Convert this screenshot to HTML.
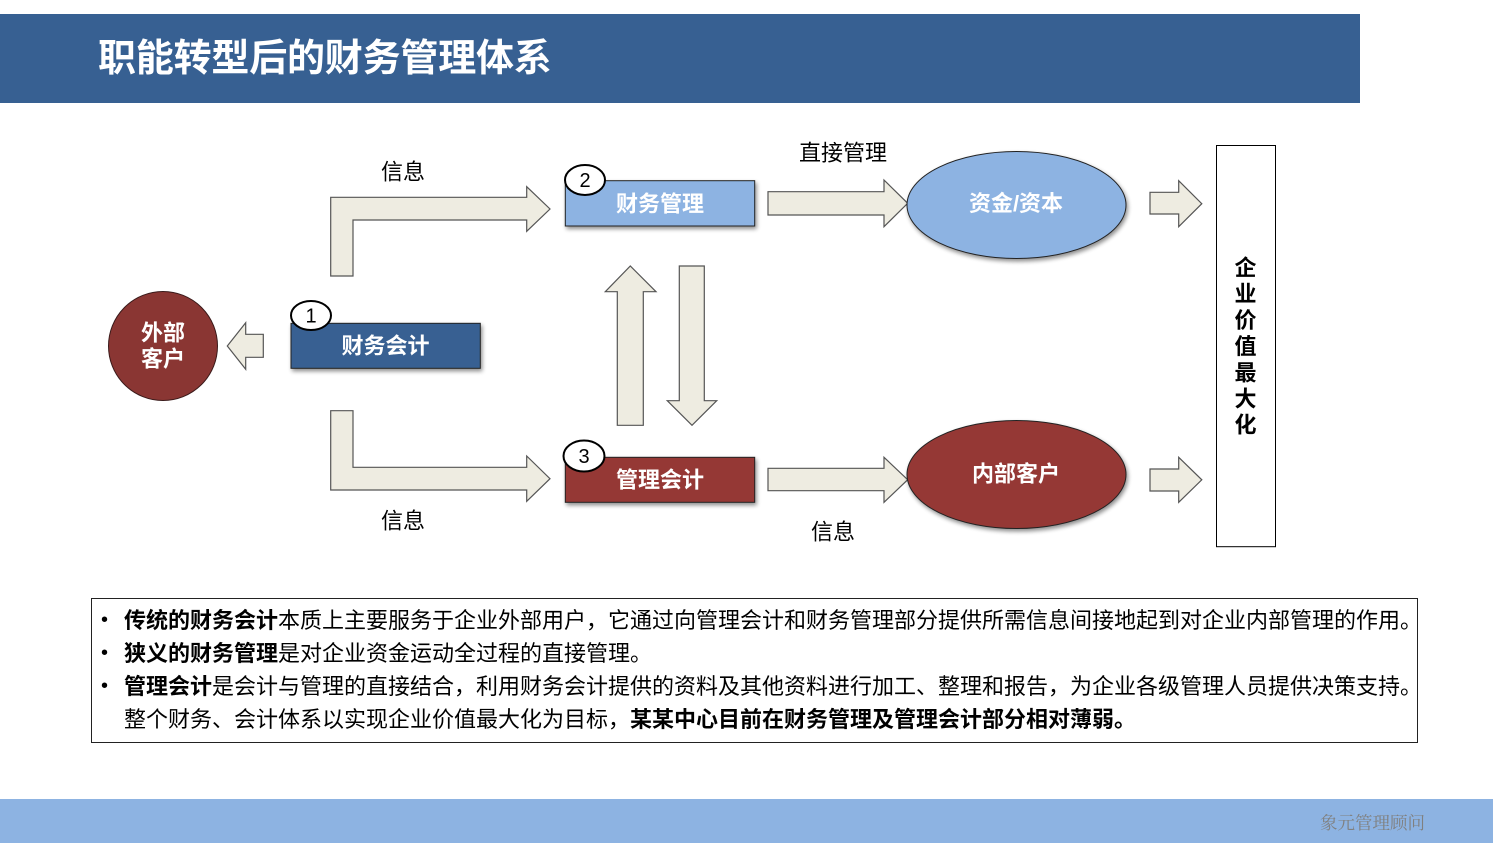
<!DOCTYPE html>
<html>
<head>
<meta charset="utf-8">
<style>
  html,body{margin:0;padding:0;background:#fff;}
  body{width:1493px;height:843px;position:relative;overflow:hidden;font-family:"Liberation Sans","Noto Sans CJK SC",sans-serif;}
  .hdr{position:absolute;left:0;top:14px;width:1360px;height:89px;background:#376092;}
  .title{position:absolute;left:98px;top:35px;font-size:38px;line-height:48px;font-weight:bold;color:#fff;white-space:nowrap;letter-spacing:-0.2px;}
  .tb{position:absolute;left:91px;top:598px;width:1325px;height:143px;border:1px solid #222;}
  .ln{position:absolute;left:124px;font-size:22px;line-height:33px;height:33px;color:#000;white-space:nowrap;}
  .bul{position:absolute;left:101px;font-size:20px;line-height:33px;color:#000;}
  b{font-weight:bold;}
  .ftr{position:absolute;left:0;top:799px;width:1493px;height:44px;background:#8DB3E2;}
  .ftxt{position:absolute;left:1320px;top:811px;font-family:"Liberation Serif","Noto Serif CJK SC",serif;font-size:17.5px;line-height:24px;color:#808080;white-space:nowrap;}
  svg{position:absolute;left:0;top:0;}
</style>
</head>
<body>
<div class="hdr"></div>
<div class="title">职能转型后的财务管理体系</div>

<svg width="1493" height="843" viewBox="0 0 1493 843" xmlns="http://www.w3.org/2000/svg">
  <defs>
    <filter id="sh" x="-20%" y="-20%" width="150%" height="160%">
      <feGaussianBlur in="SourceAlpha" stdDeviation="2"/>
      <feOffset dx="1.5" dy="2.5" result="o"/>
      <feComponentTransfer><feFuncA type="linear" slope="0.45"/></feComponentTransfer>
      <feMerge><feMergeNode/><feMergeNode in="SourceGraphic"/></feMerge>
    </filter>
  </defs>
  <g fill="#EEECE1" stroke="#555" stroke-width="1.2" stroke-linejoin="miter">
    <polygon points="330.7,276 330.7,197.3 526.7,197.3 526.7,186.7 550,209 526.7,231.3 526.7,220 353,220 353,276"/>
    <polygon points="330.7,410.7 353,410.7 353,467.3 526.7,467.3 526.7,456 550,478.7 526.7,501.3 526.7,490 330.7,490"/>
    <polygon points="617.3,425.3 617.3,291.7 605.3,291.7 630.3,266 656,291.7 643.3,291.7 643.3,425.3"/>
    <polygon points="679.3,266 704.3,266 704.3,400.7 716.7,400.7 692,425.3 667.3,400.7 679.3,400.7"/>
    <polygon points="768,191.7 884,191.7 884,180 907.7,203.3 884,226.7 884,215 768,215"/>
    <polygon points="768,468.3 884,468.3 884,457.3 907.7,479.7 884,502.3 884,490.7 768,490.7"/>
    <polygon points="1150,192.3 1178.7,192.3 1178.7,180.7 1201.8,203.7 1178.7,226.7 1178.7,214 1150,214"/>
    <polygon points="1150,469 1178.7,469 1178.7,457.3 1201.8,479.8 1178.7,502.3 1178.7,491 1150,491"/>
    <polygon points="263.3,334.3 245.7,334.3 245.7,322.7 227.3,346 245.7,369.3 245.7,357.3 263.3,357.3"/>
  </g>

  <circle cx="163" cy="346" r="54.5" fill="#8A3633" stroke="#3a1a1a" stroke-width="1"/>
  <text x="163" y="333" font-size="22" font-weight="bold" fill="#fff" text-anchor="middle" dominant-baseline="central" font-family="Liberation Sans, Noto Sans CJK SC, sans-serif">外部</text>
  <text x="163" y="359" font-size="22" font-weight="bold" fill="#fff" text-anchor="middle" dominant-baseline="central" font-family="Liberation Sans, Noto Sans CJK SC, sans-serif">客户</text>

  <rect x="291" y="323.3" width="189.3" height="45" fill="#376092" stroke="#222" stroke-width="1" filter="url(#sh)"/>
  <text x="385.5" y="346" font-size="22" font-weight="bold" fill="#fff" text-anchor="middle" dominant-baseline="central" font-family="Liberation Sans, Noto Sans CJK SC, sans-serif">财务会计</text>

  <rect x="565.3" y="180.7" width="189.4" height="45.3" fill="#8DB3E2" stroke="#222" stroke-width="1" filter="url(#sh)"/>
  <text x="660" y="204" font-size="22" font-weight="bold" fill="#fff" text-anchor="middle" dominant-baseline="central" font-family="Liberation Sans, Noto Sans CJK SC, sans-serif">财务管理</text>

  <rect x="565.3" y="457.3" width="189.4" height="45" fill="#953735" stroke="#222" stroke-width="1" filter="url(#sh)"/>
  <text x="660" y="480" font-size="22" font-weight="bold" fill="#fff" text-anchor="middle" dominant-baseline="central" font-family="Liberation Sans, Noto Sans CJK SC, sans-serif">管理会计</text>

  <ellipse cx="311" cy="315.5" rx="20" ry="14.5" fill="#fff" stroke="#000" stroke-width="2"/>
  <text x="311" y="316.5" font-size="20" fill="#000" text-anchor="middle" dominant-baseline="central" font-family="Liberation Sans, sans-serif">1</text>
  <ellipse cx="585" cy="180" rx="20" ry="15" fill="#fff" stroke="#000" stroke-width="2"/>
  <text x="585" y="181" font-size="20" fill="#000" text-anchor="middle" dominant-baseline="central" font-family="Liberation Sans, sans-serif">2</text>
  <ellipse cx="584" cy="456" rx="20.5" ry="15.5" fill="#fff" stroke="#000" stroke-width="2"/>
  <text x="584" y="457" font-size="20" fill="#000" text-anchor="middle" dominant-baseline="central" font-family="Liberation Sans, sans-serif">3</text>

  <ellipse cx="1016.5" cy="205" rx="109.5" ry="53.5" fill="#8DB3E2" stroke="#222" stroke-width="1" filter="url(#sh)"/>
  <text x="1016" y="203.5" font-size="22" font-weight="bold" fill="#fff" text-anchor="middle" dominant-baseline="central" font-family="Liberation Sans, Noto Sans CJK SC, sans-serif">资金/资本</text>
  <ellipse cx="1016.5" cy="474.5" rx="109.5" ry="54" fill="#953735" stroke="#222" stroke-width="1" filter="url(#sh)"/>
  <text x="1016" y="474" font-size="22" font-weight="bold" fill="#fff" text-anchor="middle" dominant-baseline="central" font-family="Liberation Sans, Noto Sans CJK SC, sans-serif">内部客户</text>

  <rect x="1216.5" y="145.5" width="59" height="401.2" fill="#fff" stroke="#000" stroke-width="1"/>
  <g font-size="22" font-weight="bold" fill="#000" text-anchor="middle" dominant-baseline="central" font-family="Liberation Sans, Noto Sans CJK SC, sans-serif">
    <text x="1245.5" y="268">企</text>
    <text x="1245.5" y="294.2">业</text>
    <text x="1245.5" y="320.4">价</text>
    <text x="1245.5" y="346.6">值</text>
    <text x="1245.5" y="372.8">最</text>
    <text x="1245.5" y="399">大</text>
    <text x="1245.5" y="425.2">化</text>
  </g>

  <g font-size="22" fill="#000" text-anchor="middle" dominant-baseline="central" font-family="Liberation Sans, Noto Sans CJK SC, sans-serif">
    <text x="403" y="172">信息</text>
    <text x="843" y="153">直接管理</text>
    <text x="403" y="521">信息</text>
    <text x="833" y="532">信息</text>
  </g>
</svg>

<div class="tb"></div>
<div class="bul" style="top:604px">•</div>
<div class="ln" style="top:604px"><b>传统的财务会计</b>本质上主要服务于企业外部用户，它通过向管理会计和财务管理部分提供所需信息间接地起到对企业内部管理的作用。</div>
<div class="bul" style="top:637px">•</div>
<div class="ln" style="top:637px"><b>狭义的财务管理</b>是对企业资金运动全过程的直接管理。</div>
<div class="bul" style="top:670px">•</div>
<div class="ln" style="top:670px"><b>管理会计</b>是会计与管理的直接结合，利用财务会计提供的资料及其他资料进行加工、整理和报告，为企业各级管理人员提供决策支持。</div>
<div class="ln" style="top:703px">整个财务、会计体系以实现企业价值最大化为目标，<b>某某中心目前在财务管理及管理会计部分相对薄弱。</b></div>

<div class="ftr"></div>
<div class="ftxt">象元管理顾问</div>
</body>
</html>
